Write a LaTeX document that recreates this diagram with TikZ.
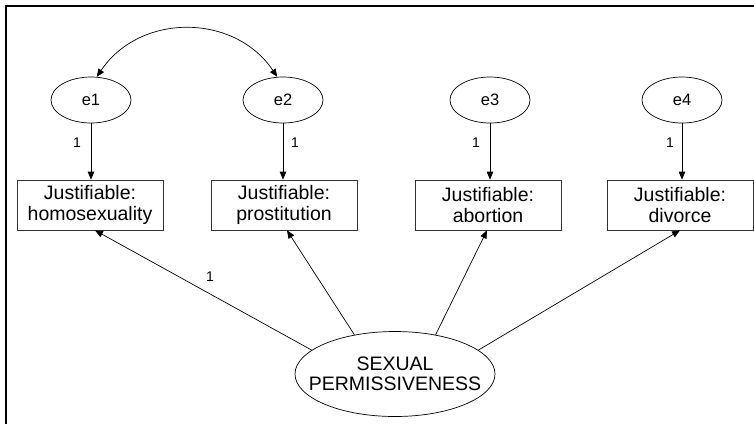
\documentclass[tikz,border=0pt]{standalone}
\usepackage{fontspec}
\setmainfont{Liberation Sans}
\usetikzlibrary{shapes.geometric,arrows.meta}

\begin{document}
\begin{tikzpicture}[x=1pt,y=-1pt,
  errvar/.style={ellipse,draw,line width=0.7pt,minimum width=80pt,minimum height=46pt,inner sep=0pt,font=\fontsize{16.5}{18}\selectfont},
  indicator/.style={rectangle,draw=black!80,line width=0.7pt,minimum width=146pt,minimum height=50pt,inner sep=0pt,align=center,font=\fontsize{19.5}{21}\selectfont},
  latent/.style={ellipse,draw,line width=0.7pt,minimum width=200pt,minimum height=85pt,inner sep=0pt},
  latenttext/.style={align=center,font=\fontsize{19.5}{20.5}\selectfont},
  path/.style={line width=0.7pt,-{Triangle[length=8pt,width=6.5pt]}},
  cov/.style={line width=0.7pt,{Triangle[length=8pt,width=6.5pt]}-{Triangle[length=8pt,width=6.5pt]}},
  weight/.style={font=\fontsize{14}{15}\selectfont,inner sep=0pt}]

\useasboundingbox (0,0) rectangle (754,424);

% frame edges
\draw[line width=2.6pt] (6,424) -- (6,6) -- (754,6);

% error terms
\node[errvar] (e1) at (91,100) {e1};
\node[errvar] (e2) at (283,100) {e2};
\node[errvar] (e3) at (490,100) {e3};
\node[errvar] (e4) at (682,100) {e4};

% observed indicators
\node[indicator] (b1) at (90,205) {Justifiable:\\homosexuality};
\node[indicator] (b2) at (284,205) {Justifiable:\\prostitution};
\node[indicator] (b3) at (488,205) {Justifiable:\\abortion};
\node[indicator] (b4) at (680,205) {Justifiable:\\divorce};

% latent factor
\node[latent] (sp) at (395,374) {};
\node[latenttext] (spt) at (sp) {SEXUAL\\PERMISSIVENESS};

% error paths
\draw[path] (e1.south) -- (e1.south |- b1.north);
\draw[path] (e2.south) -- (e2.south |- b2.north);
\draw[path] (e3.south) -- (e3.south |- b3.north);
\draw[path] (e4.south) -- (e4.south |- b4.north);

\node[weight] (w1) at (77,143) {1};
\node[weight] (w2) at (295,143) {1};
\node[weight] (w3) at (476,143) {1};
\node[weight] (w4) at (670,143) {1};

% factor loadings
\draw[path] (sp.164) -- ([xshift=5pt]b1.south);
\draw[path] (sp.136) -- ([xshift=3pt]b2.south);
\draw[path] (sp.44) -- ([xshift=-1pt]b3.south);
\draw[path] (sp.16) -- (b4.south);
\node[weight] (w5) at (210,277) {1};

% error covariance
\draw[cov] (e1.76) .. controls +(43,-64) and +(-43,-64) .. (e2.104);

\end{tikzpicture}
\end{document}
